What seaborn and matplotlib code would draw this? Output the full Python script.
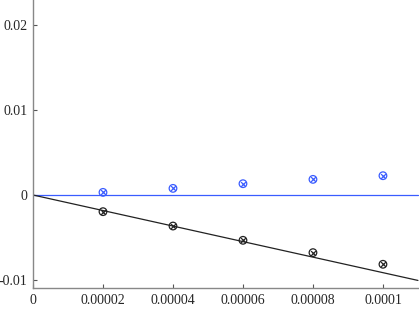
import matplotlib
matplotlib.use("Agg")
import matplotlib.pyplot as plt
import seaborn as sns

# values
h_values = [0.00002, 0.00004, 0.00006, 0.00008, 0.0001]
blue_err = [0.00031, 0.00078, 0.00133, 0.00184, 0.00227]
black_err = [-0.00196, -0.00365, -0.00533, -0.00678, -0.00815]
fit_x = [0.0, 0.00011]
fit_y = [0.0, -0.01005]
zero_x = [0.0, 0.00011]
zero_y = [0.0, 0.0]

x_ticks = [0, 0.00002, 0.00004, 0.00006, 0.00008, 0.0001]
x_labels = ["0", "0.00002", "0.00004", "0.00006", "0.00008", "0.0001"]
y_ticks = [-0.01, 0, 0.01, 0.02]
y_labels = ["-0.01", "0", "0.01", "0.02"]

sns.set_style("ticks")
plt.rcParams['font.family'] = ['Liberation Serif', 'DejaVu Serif']

blue = "#3a5cff"
black = "#222222"

fig = plt.figure(figsize=(4.19, 3.27), dpi=100)
ax = fig.add_axes([33 / 419, 39 / 327, 1 - 33 / 419, 1 - 39 / 327])

sns.lineplot(x=zero_x, y=zero_y, ax=ax, color=blue, linewidth=0.9)
sns.lineplot(x=fit_x, y=fit_y, ax=ax, color=black, linewidth=0.9)

for color, vals in [(blue, blue_err), (black, black_err)]:
    ax.scatter(h_values, vals, marker="o", s=30, facecolors="none",
               edgecolors=color, linewidths=0.9, zorder=3)
    ax.scatter(h_values, vals, marker="x", s=12, color=color,
               linewidths=0.9, zorder=4)

ax.set_xlim(0, 0.0001103)
ax.set_ylim(-0.01094, 0.02294)
ax.set_xticks(x_ticks)
ax.set_xticklabels(x_labels)
ax.set_yticks(y_ticks)
ax.set_yticklabels(y_labels)
ax.set_xlabel("")
ax.set_ylabel("")

sns.despine(ax=ax)
for side in ["left", "bottom"]:
    ax.spines[side].set_color("#888888")
    ax.spines[side].set_linewidth(1.0)
ax.tick_params(direction="in", length=3, width=0.8, color="#555555",
               labelsize=10, pad=4)

fig.savefig("out.png", dpi=100)
